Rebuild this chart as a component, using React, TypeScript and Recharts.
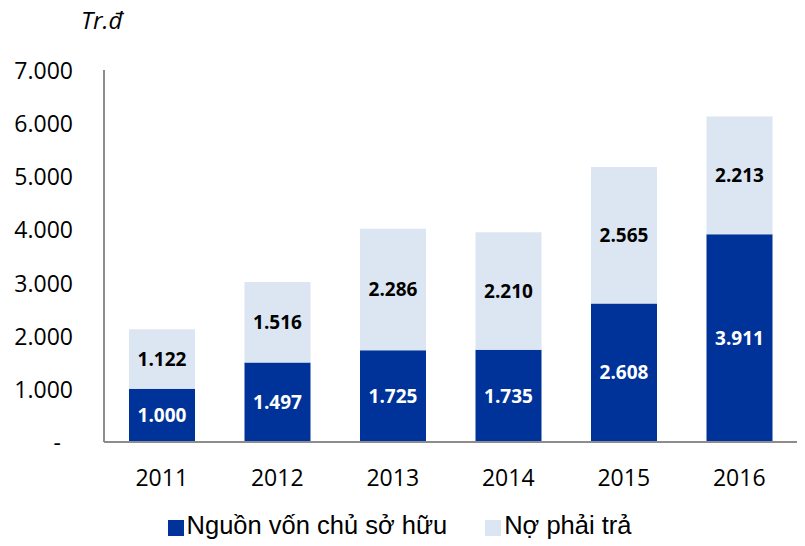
import { Bar, BarChart, LabelList, Legend, XAxis, YAxis } from "recharts";

const YEARS = ["2011", "2012", "2013", "2014", "2015", "2016"];
const EQUITY = [1000, 1497, 1725, 1735, 2608, 3911];
const LIABILITIES = [1122, 1516, 2286, 2210, 2565, 2213];
const Y_TICKS = [0, 1000, 2000, 3000, 4000, 5000, 6000, 7000];

const DARK = "#003399";
const LIGHT = "#dce6f2";
const AXIS = "#8c8c8c";
const TICK_FONT = "'Open Sans', sans-serif";

const data = YEARS.map((year, i) => ({
  year,
  equity: EQUITY[i],
  debt: LIABILITIES[i],
}));

// 1234 -> "1.234", 0 -> "-"
const fmt = (n: number) =>
  n === 0 ? "-" : String(Math.round(n)).replace(/\B(?=(\d{3})+(?!\d))/g, ".");

function YTick({ x, y, payload }: any) {
  const v = payload.value as number;
  return (
    <text
      x={v === 0 ? x - 43 : x - 31}
      y={y}
      textAnchor="end"
      dominantBaseline="central"
      fontFamily={TICK_FONT}
      fontSize={23}
      fill="#000"
    >
      {fmt(v)}
    </text>
  );
}

function XTick({ x, y, payload }: any) {
  return (
    <text
      x={x}
      y={y + 35}
      textAnchor="middle"
      dominantBaseline="central"
      fontFamily={TICK_FONT}
      fontSize={23}
      fill="#000"
    >
      {payload.value}
    </text>
  );
}

function LegendBox() {
  const items = [
    { name: "Nguồn vốn chủ sở hữu", color: DARK },
    { name: "Nợ phải trả", color: LIGHT },
  ];
  return (
    <div
      style={{
        display: "flex",
        justifyContent: "center",
        alignItems: "center",
        gap: 38,
        height: 40,
        paddingRight: 6,
        fontFamily: "'Liberation Sans', Arial, sans-serif",
        fontSize: 25.5,
        color: "#000",
      }}
    >
      {items.map((it) => (
        <div key={it.name} style={{ display: "flex", alignItems: "center" }}>
          <span
            style={{
              display: "inline-block",
              width: 16,
              height: 16,
              background: it.color,
              marginRight: 3,
              marginTop: 5,
            }}
          />
          <span>{it.name}</span>
        </div>
      ))}
    </div>
  );
}

export default function App() {
  return (
    <div style={{ position: "absolute", left: 0, top: 0, width: 805, height: 546, background: "#fff" }}>
      <div
        style={{
          position: "absolute",
          left: 81,
          top: 3,
          fontFamily: TICK_FONT,
          fontStyle: "italic",
          fontSize: 24,
          color: "#000",
        }}
      >
        Tr.đ
      </div>
      <BarChart
        width={805}
        height={546}
        data={data}
        margin={{ top: 70, right: 8, bottom: 0, left: 0 }}
        barSize={66}
      >
        <YAxis
          width={104}
          domain={[0, 7000]}
          ticks={Y_TICKS}
          interval={0}
          tickLine={false}
          tickSize={0}
          tickMargin={0}
          axisLine={{ stroke: AXIS, strokeWidth: 2 }}
          tick={<YTick />}
        />
        <XAxis
          dataKey="year"
          height={64}
          tickLine={false}
          tickSize={0}
          tickMargin={0}
          axisLine={{ stroke: AXIS, strokeWidth: 2 }}
          tick={<XTick />}
        />
        <Legend
          verticalAlign="bottom"
          content={<LegendBox />}
          wrapperStyle={{ top: 505, left: 0, width: 805, height: 40 }}
        />
        <Bar dataKey="equity" name="Nguồn vốn chủ sở hữu" stackId="a" fill={DARK} isAnimationActive={false}>
          <LabelList
            dataKey="equity"
            position="center"
            formatter={(v: any) => fmt(Number(v))}
            fill="#fff"
            fontFamily={TICK_FONT}
            fontWeight="bold"
            fontSize={19}
          />
        </Bar>
        <Bar dataKey="debt" name="Nợ phải trả" stackId="a" fill={LIGHT} isAnimationActive={false}>
          <LabelList
            dataKey="debt"
            position="center"
            formatter={(v: any) => fmt(Number(v))}
            fill="#000"
            fontFamily={TICK_FONT}
            fontWeight="bold"
            fontSize={19}
          />
        </Bar>
      </BarChart>
    </div>
  );
}
